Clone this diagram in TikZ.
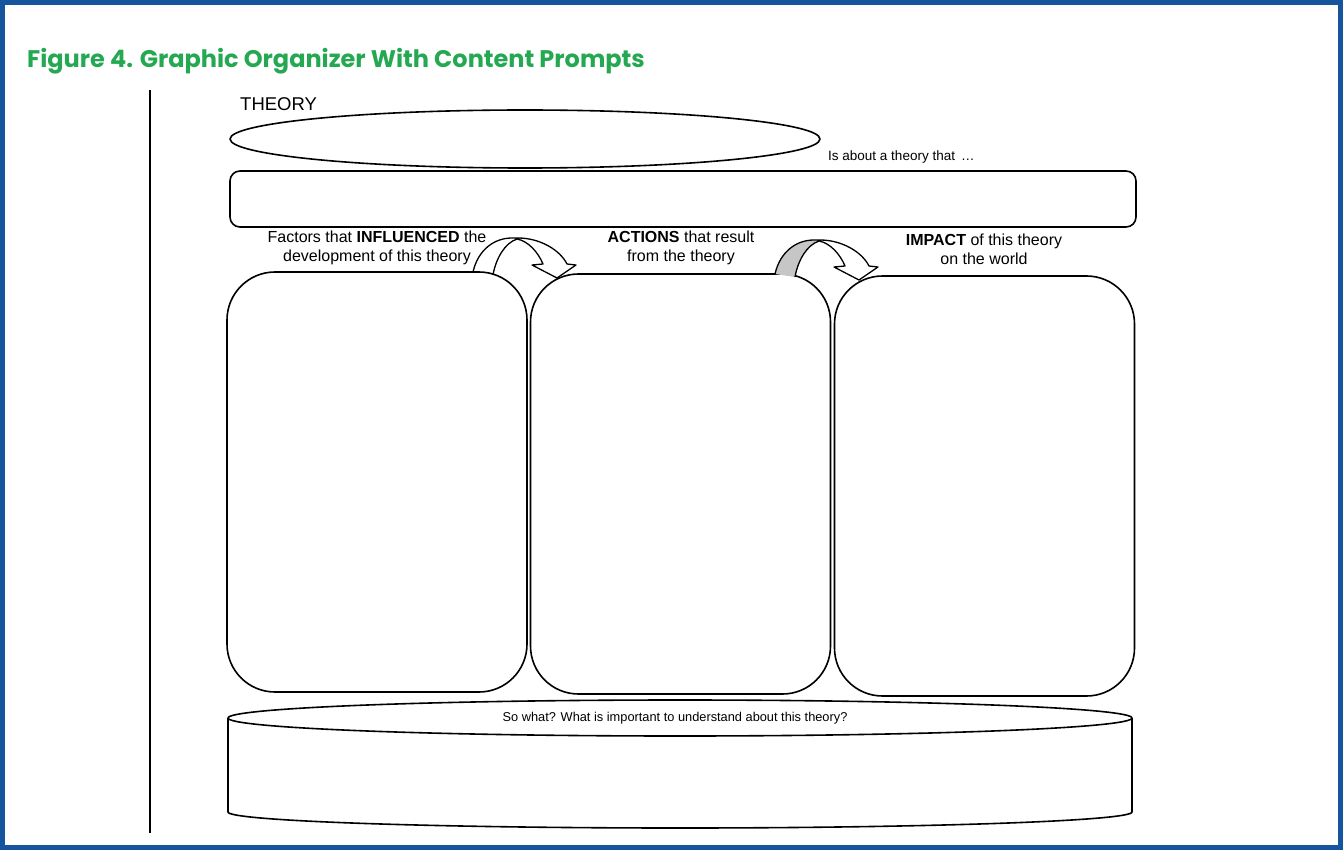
\documentclass[tikz,border=0pt]{standalone}
\usepackage{fontspec}
\setmainfont{Liberation Sans}
\newfontfamily\titlefont{Poppins}
\usetikzlibrary{shapes.geometric}
\definecolor{frameblue}{RGB}{22,84,158}
\definecolor{titlegreen}{RGB}{36,168,82}
\tikzset{
  line/.style={line width=1.6pt, line join=round},
  panel/.style={line, draw, rounded corners=48pt, minimum width=300pt, minimum height=420pt},
  prompt/.style={align=center, font=\fontsize{16}{19}\selectfont, inner sep=0pt},
  twist/.style={line width=1.3pt, line join=round},
}
\begin{document}
\begin{tikzpicture}[x=1pt,y=-1pt]
\useasboundingbox (0,0) rectangle (1343,850);
\fill[white] (0,0) rectangle (1343,850);
% frame
\draw[frameblue, line width=5pt] (2.5,2.5) rectangle (1340.5,847.5);
% title
\node[anchor=base west, inner sep=0pt, text=titlegreen, font=\titlefont\bfseries\fontsize{24}{28}\selectfont] (title) at (27,68) {Figure 4. Graphic Organizer With Content Prompts};
% left rule
\draw[line width=2.8pt] (150,90) coordinate (ruletop) -- (150,833) coordinate (rulebot);
% theory
\node[anchor=west, inner sep=0pt, font=\fontsize{18.5}{21}\selectfont] (theorylbl) at (240,104) {THEORY};
\node[line, draw, ellipse, minimum width=590pt, minimum height=58pt, inner sep=0pt] (theory) at (525,139) {};
\node[anchor=west, inner sep=0pt, font=\fontsize{13.5}{16}\selectfont] (aboutlbl) at (828,157) {Is about a theory that \,\dots};
\node[line, draw, rounded corners=10pt, minimum width=906pt, minimum height=56pt] (about) at (683,199) {};
% prompts
\node[prompt] (inflbl) at (377,247.5) {Factors that \textbf{INFLUENCED} the\\development of this theory};
\node[prompt] (actlbl) at (681,247.5) {\textbf{ACTIONS} that result\\from the theory};
\node[prompt] (implbl) at (984,249.5) {\textbf{IMPACT} of this theory\\on the world};
% panels
\node[panel] (infl) at (377,482) {};
\node[panel] (act) at (680.5,484) {};
\node[panel] (imp) at (984.5,486) {};
% curved arrows
\begin{scope}
\draw[twist] (473,272) .. controls (478,250) and (494,238) .. (512,238) -- (518,238)
  .. controls (540,238) and (560,250) .. (567,264) -- (576,265) -- (557,278) -- (532,265) -- (543,264)
  .. controls (538,252) and (528,241) .. (517,239)
  .. controls (505,243) and (496,258) .. (493,275);
\end{scope}
\begin{scope}[shift={(302,2)}]
\fill[gray!45] (473,272) .. controls (478,250) and (494,238) .. (512,238) -- (517,239)
  .. controls (505,243) and (496,258) .. (493,275) -- cycle;
\draw[twist] (473,272) .. controls (478,250) and (494,238) .. (512,238) -- (518,238)
  .. controls (540,238) and (560,250) .. (567,264) -- (576,265) -- (557,278) -- (532,265) -- (543,264)
  .. controls (538,252) and (528,241) .. (517,239)
  .. controls (505,243) and (496,258) .. (493,275);
\end{scope}
% bottom cylinder
\draw[line] (228,718) coordinate (cylL) -- (228,812) arc[start angle=180, end angle=0, x radius=452, y radius=16] -- (1132,718) coordinate (cylR);
\draw[line] (680,718) ellipse[x radius=452, y radius=18];
\node[inner sep=0pt, font=\fontsize{12.8}{15}\selectfont] (sowhat) at (675,718) {So what? What is important to understand about this theory?};
\end{tikzpicture}
\end{document}
